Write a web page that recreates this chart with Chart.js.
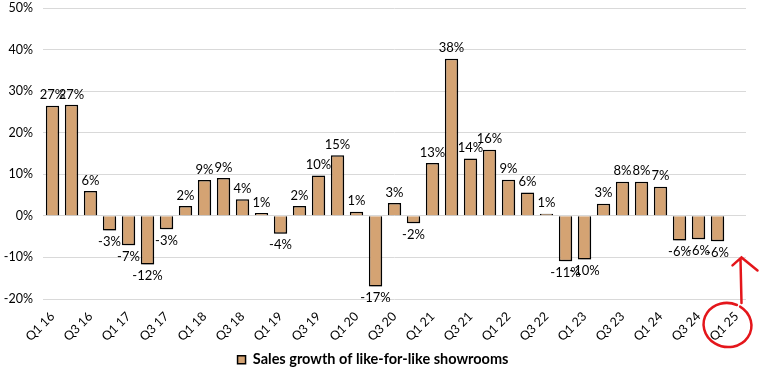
<!DOCTYPE html>
<html>
<head>
<meta charset="utf-8">
<script src="https://cdn.jsdelivr.net/npm/chart.js@4"></script>
<style>
  body { margin: 0; background: #fff; }
  #wrap { width: 760px; height: 370px; }
</style>
</head>
<body>
<div id="wrap"><canvas id="chart" width="760" height="370"></canvas></div>
<script>
// quarters Q1 16 .. Q1 25 (last one has no value yet)
const quarters = [
  'Q1 16', 'Q2 16', 'Q3 16', 'Q4 16',
  'Q1 17', 'Q2 17', 'Q3 17', 'Q4 17',
  'Q1 18', 'Q2 18', 'Q3 18', 'Q4 18',
  'Q1 19', 'Q2 19', 'Q3 19', 'Q4 19',
  'Q1 20', 'Q2 20', 'Q3 20', 'Q4 20',
  'Q1 21', 'Q2 21', 'Q3 21', 'Q4 21',
  'Q1 22', 'Q2 22', 'Q3 22', 'Q4 22',
  'Q1 23', 'Q2 23', 'Q3 23', 'Q4 23',
  'Q1 24', 'Q2 24', 'Q3 24', 'Q4 24',
  'Q1 25'
];
const growth = [
  26.5, 26.7, 6.0, -3.5,
  -7.1, -11.7, -3.2, 2.4,
  8.6, 9.1, 4.0, 0.7,
  -4.3, 2.4, 9.7, 14.6,
  1.0, -17.0, 3.1, -1.8,
  12.7, 37.8, 13.8, 15.9,
  8.7, 5.6, 0.5, -10.9,
  -10.5, 2.9, 8.2, 8.2,
  7.0, -5.9, -5.6, -6.1,
  null
];
const yTicks = [-20, -10, 0, 10, 20, 30, 40, 50];
const seriesName = 'Sales growth of like-for-like showrooms';

const FONT = 'Lato, "DejaVu Sans", sans-serif';

// drop shadow under the bars
const barShadow = {
  id: 'barShadow',
  beforeDatasetDraw(chart) {
    const ctx = chart.ctx;
    ctx.save();
    ctx.shadowColor = 'rgba(0,0,0,0.35)';
    ctx.shadowBlur = 3;
    ctx.shadowOffsetX = 2;
    ctx.shadowOffsetY = 2;
  },
  afterDatasetDraw(chart) {
    chart.ctx.restore();
  }
};

// value labels above / below bars
const valueLabels = {
  id: 'valueLabels',
  afterDatasetsDraw(chart) {
    const ctx = chart.ctx;
    const meta = chart.getDatasetMeta(0);
    ctx.save();
    ctx.font = '13px ' + FONT;
    ctx.fillStyle = '#000';
    ctx.textAlign = 'center';
    meta.data.forEach((bar, i) => {
      const v = growth[i];
      if (v === null) return;
      const txt = Math.round(v) + '%';
      if (v >= 0) {
        ctx.textBaseline = 'bottom';
        ctx.fillText(txt, bar.x, bar.y - 4);
      } else {
        ctx.textBaseline = 'top';
        ctx.fillText(txt, bar.x, bar.y + 5);
      }
    });
    ctx.restore();
  }
};

// red hand-drawn circle + arrow round the last quarter
const redMark = {
  id: 'redMark',
  afterDraw(chart) {
    const ctx = chart.ctx;
    const xs = chart.scales.x, ys = chart.scales.y;
    const x = xs.getPixelForValue(quarters.length - 1);
    const b = chart.chartArea.bottom;
    ctx.save();
    ctx.strokeStyle = '#e4161b';
    ctx.lineWidth = 2.5;
    ctx.lineCap = 'round';
    ctx.beginPath();
    ctx.ellipse(x - 9, b + 26, 24, 22, 0.2, -1.2, 2 * Math.PI - 1.35);
    ctx.stroke();
    const top = ys.getPixelForValue(-10);
    ctx.beginPath();
    ctx.moveTo(x + 5, b + 4);
    ctx.lineTo(x + 4, top + 2);
    ctx.moveTo(x - 4, top + 8);
    ctx.lineTo(x + 5, top);
    ctx.lineTo(x + 21, top + 13);
    ctx.stroke();
    ctx.restore();
  }
};

new Chart(document.getElementById('chart'), {
  type: 'bar',
  data: {
    labels: quarters,
    datasets: [{
      label: seriesName,
      data: growth,
      backgroundColor: '#d4a373',
      borderColor: '#000',
      borderWidth: 1.5,
      barPercentage: 0.7,
      categoryPercentage: 1.0
    }]
  },
  options: {
    responsive: false,
    animation: false,
    layout: { padding: { top: 8, right: 14, left: 0, bottom: -7 } },
    plugins: {
      legend: {
        position: 'bottom',
        labels: {
          boxWidth: 8,
          boxHeight: 8,
          padding: 4,
          color: '#000',
          font: { family: FONT, size: 14.5, weight: 'bold' }
        }
      },
      tooltip: { enabled: false }
    },
    scales: {
      x: {
        grid: { display: false },
        border: { display: false },
        afterFit: s => { s.height = 49.5; },
        ticks: {
          autoSkip: false,
          maxRotation: 45,
          minRotation: 45,
          color: '#000',
          padding: 2,
          font: { family: FONT, size: 12.5 },
          callback: (v, i) => (i % 2 === 0 ? quarters[i] : '')
        }
      },
      y: {
        min: yTicks[0],
        max: yTicks[yTicks.length - 1],
        afterBuildTicks: s => { s.ticks = yTicks.map(v => ({ value: v })); },
        afterFit: s => { s.width = 43; s.paddingTop = 0; s.paddingBottom = 0; },
        grid: { color: '#d9d9d9', drawTicks: false, lineWidth: 1 },
        border: { display: false },
        ticks: {
          color: '#000',
          padding: 10,
          font: { family: FONT, size: 12.5 },
          callback: v => v + '%'
        }
      }
    }
  },
  plugins: [barShadow, valueLabels, redMark]
});
</script>
</body>
</html>
